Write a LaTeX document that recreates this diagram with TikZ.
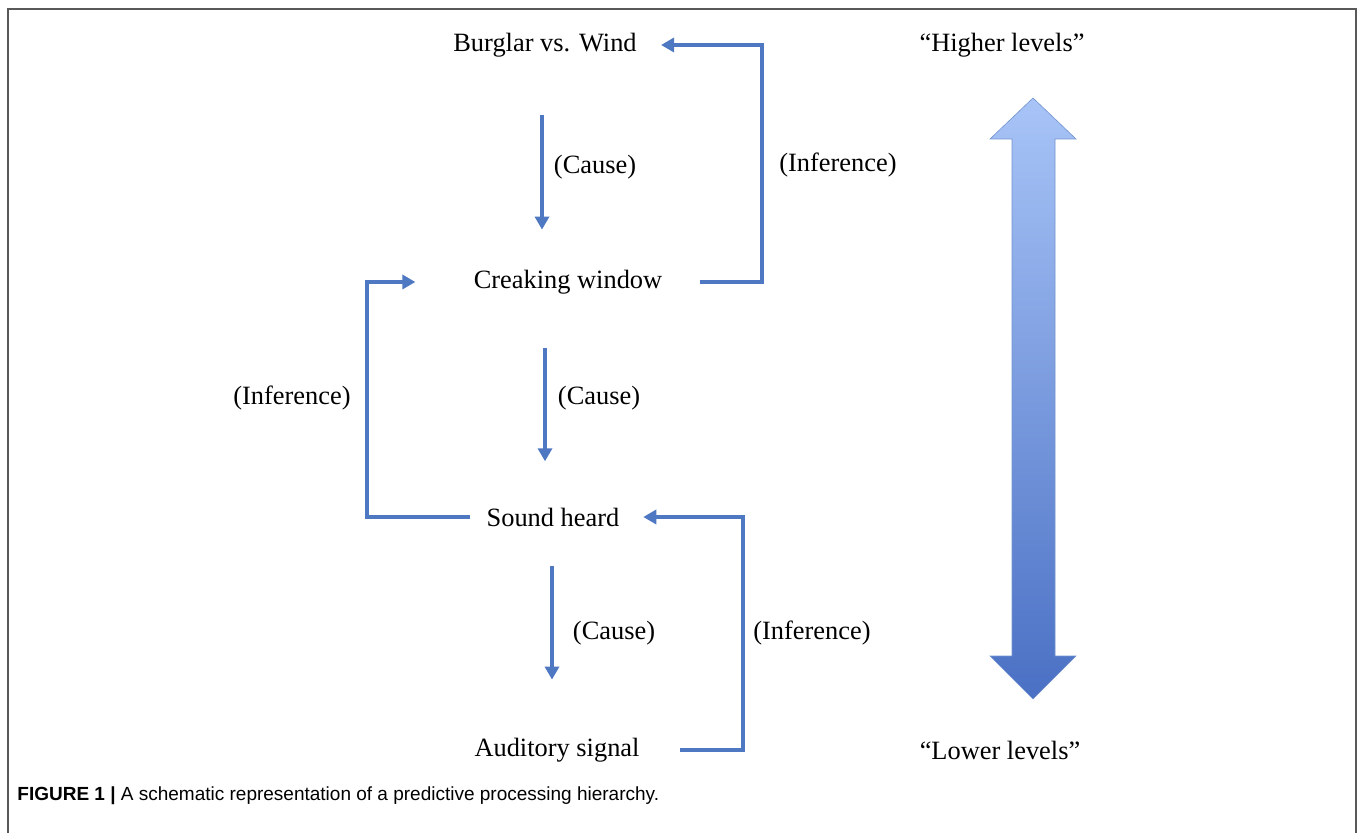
\documentclass[tikz,border=0pt]{standalone}
\usepackage{fontspec}
\setmainfont{Liberation Serif}
\newfontfamily\capfont{Liberation Sans}
\usetikzlibrary{arrows.meta}
\definecolor{arrowblue}{HTML}{4F78C2}
\definecolor{lightblue}{HTML}{A8C4F7}
\definecolor{darkblue}{HTML}{4A70C4}

\begin{document}
\begin{tikzpicture}[x=0.5pt, y=-0.5pt,
level/.style={font=\fontsize{13.2}{16}\selectfont, inner sep=0pt},
link/.style={draw=arrowblue, line width=2pt, -{Triangle[length=6.5pt,width=7pt]}}]
\useasboundingbox (0,0) rectangle (1358,833);
\draw[gray!70!black, line width=1pt] (8,833) -- (8,9) -- (1356,9) -- (1356,833);
\node[level] (burglar) at (545,45) {Burglar vs. Wind};
\node[level] (creak) at (568,282) {Creaking window};
\node[level] (sound) at (553,517) {Sound heard};
\node[level] (audit) at (557,750) {Auditory signal};
\node[level] (high) at (1002,45) {“Higher levels”};
\node[level] (low) at (1000,750) {“Lower levels”};
\node[level] (cause1) at (595,167) {(Cause)};
\node[level] (cause2) at (599,398) {(Cause)};
\node[level] (cause3) at (614,633) {(Cause)};
\node[level] (infer1) at (838,165) {(Inference)};
\node[level] (infer2) at (292,398) {(Inference)};
\node[level] (infer3) at (812,633) {(Inference)};
\draw[link, shorten <=29pt, shorten >=20pt] ([xshift=-1.5pt]burglar.south) -- ([xshift=-1.5pt]burglar.south |- creak.north);
\draw[link, shorten <=27pt, shorten >=23pt] ([xshift=-11.5pt]creak.south) -- ([xshift=-11.5pt]creak.south |- sound.north);
\draw[link, shorten <=19.5pt, shorten >=29pt] ([xshift=-0.5pt]sound.south) -- ([xshift=-0.5pt]sound.south |- audit.north);
\draw[link, shorten <=18.5pt, shorten >=12pt] (creak.east) -| ([xshift=-8.5pt]infer1.west) |- (burglar.east);
\draw[link, shorten <=8pt, shorten >=29pt] (sound.west) -| ([xshift=8pt]infer2.east) |- (creak.west);
\draw[link, shorten <=20pt, shorten >=11.75pt] (audit.east) -| ([xshift=-5pt]infer3.west) |- (sound.east);
\shade[top color=lightblue, bottom color=darkblue, draw=arrowblue!80, line width=0.3pt]
  (1033,98) -- (1076,139) -- (1055,139) -- (1055,656) -- (1076,656) -- (1033,699)
  -- (990,656) -- (1012,656) -- (1012,139) -- (990,139) -- cycle;
\node[anchor=base west, inner sep=0pt, font=\capfont\fontsize{9.5}{11}\selectfont] (caption) at (17,800)
  {\textbf{FIGURE 1 |} A schematic representation of a predictive processing hierarchy.};
\end{tikzpicture}
\end{document}
